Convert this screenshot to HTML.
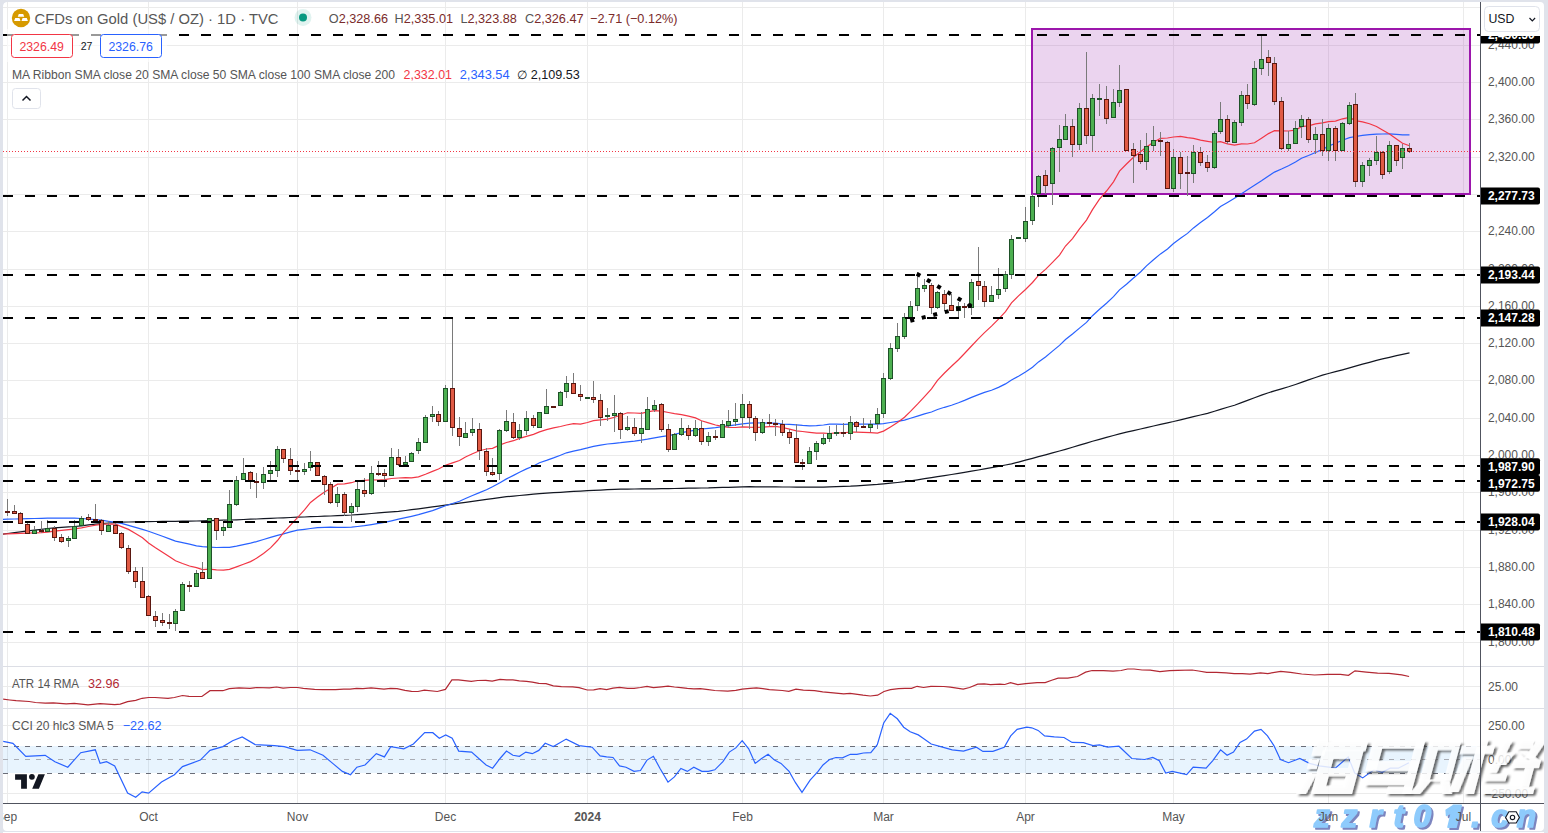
<!DOCTYPE html>
<html><head><meta charset="utf-8"><style>
html,body{margin:0;padding:0;background:#e0e3eb;overflow:hidden}
svg{display:block;font-family:"Liberation Sans", sans-serif;}
</style></head><body>
<svg width="1548" height="833" viewBox="0 0 1548 833">
<rect x="0" y="0" width="1548" height="833" fill="#e0e3eb"/>
<rect x="3" y="2" width="1541" height="829" rx="4" fill="#ffffff"/>
<defs><clipPath id="mp"><rect x="3" y="2" width="1477.5" height="664"/></clipPath><clipPath id="p1"><rect x="3" y="667" width="1477.5" height="41"/></clipPath><clipPath id="p2"><rect x="3" y="709" width="1477.5" height="94"/></clipPath><filter id="sh" x="-10%" y="-10%" width="130%" height="130%"><feGaussianBlur in="SourceAlpha" stdDeviation="1"/><feOffset dx="2.6" dy="2.2" result="b"/><feFlood flood-color="#333" flood-opacity="0.85"/><feComposite in2="b" operator="in"/><feComposite in2="SourceAlpha" operator="out"/><feMerge><feMergeNode/><feMergeNode in="SourceGraphic"/></feMerge></filter><filter id="sh2" x="-10%" y="-10%" width="130%" height="130%"><feGaussianBlur in="SourceAlpha" stdDeviation="0.4"/><feOffset dx="1.6" dy="1.6" result="b"/><feFlood flood-color="#6f78b8" flood-opacity="0.9"/><feComposite in2="b" operator="in"/><feMerge><feMergeNode/><feMergeNode in="SourceGraphic"/></feMerge></filter></defs>
<path d="M3 7.5H1480M3 45.5H1480M3 82.5H1480M3 119.5H1480M3 157.5H1480M3 194.5H1480M3 231.5H1480M3 269.5H1480M3 306.5H1480M3 343.5H1480M3 380.5H1480M3 418.5H1480M3 455.5H1480M3 492.5H1480M3 530.5H1480M3 567.5H1480M3 604.5H1480M3 642.5H1480M3 686.5H1480M3 725.5H1480M3 793.5H1480M7.5 2V803M148.5 2V803M297.5 2V803M445.5 2V803M587.5 2V803M742.5 2V803M883.5 2V803M1025.5 2V803M1173.5 2V803M1328.5 2V803M1463.5 2V803" stroke="#ebebeb" stroke-width="1" fill="none"/>
<path d="M3 666.5H1544M3 708.5H1544" stroke="#dcdee5" stroke-width="1"/>
<g clip-path="url(#mp)">
<rect x="1032" y="29" width="438" height="165" fill="#9c27b0" fill-opacity="0.2" stroke="#9c16ac" stroke-width="2"/>
<polyline points="3.0,534.1 7.5,533.5 14.5,532.6 20.5,531.8 27.5,530.9 34.5,530.1 41.5,529.3 47.5,528.5 54.5,527.9 61.5,527.4 68.5,526.9 74.5,526.5 81.5,525.8 88.5,524.9 95.5,524.1 101.5,523.5 108.5,523.0 115.5,522.6 121.5,522.2 128.5,522.0 135.5,521.9 142.5,521.7 148.5,521.6 155.5,521.5 162.5,521.4 169.5,521.3 175.5,521.3 182.5,521.2 189.5,521.1 196.5,521.0 202.5,520.8 209.5,520.6 216.5,520.4 223.5,520.2 229.5,520.0 236.5,519.8 243.5,519.5 250.5,519.2 256.5,519.0 263.5,518.7 270.5,518.3 277.5,518.0 283.5,517.8 290.5,517.5 297.5,517.2 304.5,517.0 310.5,516.7 317.5,516.5 324.5,516.2 330.5,516.0 337.5,515.7 344.5,515.3 351.5,515.0 357.5,514.6 364.5,514.1 371.5,513.5 378.5,512.9 384.5,512.3 391.5,511.8 398.5,511.3 405.5,510.5 411.5,509.7 418.5,508.8 425.5,507.8 432.5,506.9 438.5,506.1 445.5,505.2 452.5,504.2 459.5,503.2 465.5,502.4 472.5,501.4 479.5,500.4 486.5,499.4 492.5,498.6 499.5,497.7 506.5,496.7 513.5,496.1 519.5,495.5 526.5,494.9 533.5,494.2 539.5,493.7 546.5,493.2 553.5,492.7 560.5,492.3 566.5,491.9 573.5,491.4 580.5,491.1 587.5,490.7 593.5,490.4 600.5,490.1 607.5,489.7 614.5,489.4 620.5,489.2 627.5,489.1 634.5,489.0 641.5,488.9 647.5,488.9 654.5,488.8 661.5,488.7 668.5,488.6 674.5,488.5 681.5,488.4 688.5,488.2 695.5,488.1 701.5,488.0 708.5,487.9 715.5,487.6 722.5,487.4 728.5,487.3 735.5,487.1 742.5,486.8 749.5,486.7 755.5,486.8 762.5,486.8 769.5,486.9 775.5,486.9 782.5,487.0 789.5,487.0 796.5,487.1 802.5,487.1 809.5,487.1 816.5,487.1 823.5,487.1 829.5,486.9 836.5,486.7 843.5,486.4 850.5,486.2 856.5,485.8 863.5,485.3 870.5,484.8 877.5,484.4 883.5,483.9 890.5,483.2 897.5,482.5 904.5,481.7 910.5,480.8 917.5,479.8 924.5,478.7 931.5,477.6 937.5,476.7 944.5,475.6 951.5,474.5 958.5,473.3 964.5,472.3 971.5,471.2 978.5,470.0 984.5,468.9 991.5,467.6 998.5,466.3 1005.5,465.0 1011.5,463.9 1018.5,462.1 1025.5,460.2 1032.5,458.3 1038.5,456.7 1045.5,454.8 1052.5,452.9 1059.5,451.0 1065.5,449.3 1072.5,447.2 1079.5,445.1 1086.5,443.1 1092.5,441.3 1099.5,439.3 1106.5,437.4 1113.5,435.5 1119.5,433.9 1126.5,432.2 1133.5,430.6 1140.5,429.0 1146.5,427.6 1153.5,426.0 1160.5,424.4 1167.5,422.8 1173.5,421.5 1180.5,419.8 1187.5,418.1 1193.5,416.7 1200.5,415.0 1207.5,413.3 1214.5,411.2 1220.5,409.4 1227.5,407.3 1234.5,405.2 1241.5,402.6 1247.5,400.4 1254.5,397.7 1261.5,395.1 1268.5,392.7 1274.5,390.9 1281.5,388.9 1288.5,386.8 1295.5,384.5 1301.5,382.4 1308.5,379.9 1315.5,377.5 1322.5,375.1 1328.5,373.5 1335.5,371.6 1342.5,369.8 1349.5,367.9 1355.5,366.2 1362.5,364.2 1369.5,362.3 1376.5,360.3 1382.5,358.9 1389.5,357.3 1396.5,355.7 1402.5,354.3 1409.5,352.8" fill="none" stroke="#131722" stroke-width="1.2"/>
<polyline points="3.0,519.3 7.5,519.2 14.5,519.0 20.5,518.8 27.5,518.6 34.5,518.5 41.5,518.3 47.5,518.2 54.5,518.2 61.5,518.2 68.5,518.2 74.5,518.2 81.5,518.5 88.5,519.0 95.5,519.6 101.5,520.2 108.5,521.3 115.5,522.3 121.5,523.3 128.5,525.3 135.5,527.4 142.5,529.4 148.5,531.2 155.5,533.7 162.5,536.3 169.5,538.9 175.5,541.1 182.5,542.7 189.5,544.2 196.5,545.8 202.5,546.7 209.5,547.1 216.5,547.5 223.5,547.4 229.5,547.3 236.5,546.1 243.5,544.7 250.5,543.2 256.5,541.6 263.5,539.5 270.5,537.4 277.5,535.4 283.5,533.8 290.5,531.9 297.5,530.2 304.5,529.3 310.5,528.5 317.5,527.6 324.5,527.3 330.5,527.1 337.5,527.3 344.5,527.4 351.5,527.2 357.5,526.5 364.5,525.7 371.5,524.6 378.5,523.4 384.5,522.4 391.5,520.8 398.5,519.2 405.5,517.7 411.5,516.3 418.5,514.7 425.5,512.7 432.5,510.6 438.5,508.4 445.5,505.7 452.5,503.5 459.5,501.3 465.5,498.5 472.5,495.5 479.5,492.6 486.5,489.7 492.5,486.8 499.5,482.9 506.5,478.9 513.5,475.4 519.5,472.3 526.5,468.9 533.5,466.0 539.5,462.7 546.5,460.4 553.5,457.9 560.5,455.2 566.5,452.8 573.5,451.1 580.5,449.6 587.5,447.9 593.5,446.3 600.5,445.1 607.5,444.0 614.5,443.3 620.5,442.7 627.5,441.8 634.5,441.1 641.5,440.2 647.5,439.2 654.5,437.8 661.5,436.7 668.5,435.6 674.5,434.4 681.5,432.7 688.5,431.3 695.5,430.1 701.5,429.0 708.5,428.3 715.5,427.6 722.5,426.6 728.5,425.8 735.5,424.9 742.5,423.8 749.5,423.1 755.5,422.9 762.5,423.0 769.5,423.1 775.5,423.2 782.5,424.1 789.5,424.3 796.5,424.8 802.5,425.4 809.5,425.8 816.5,425.7 823.5,425.0 829.5,424.2 836.5,424.2 843.5,424.4 850.5,424.1 856.5,424.1 863.5,424.2 870.5,424.2 877.5,424.2 883.5,423.7 890.5,422.5 897.5,421.4 904.5,420.1 910.5,418.3 917.5,416.1 924.5,413.9 931.5,412.0 937.5,409.5 944.5,407.3 951.5,405.3 958.5,402.8 964.5,400.4 971.5,397.4 978.5,394.6 984.5,392.4 991.5,390.2 998.5,387.4 1005.5,383.9 1011.5,380.0 1018.5,376.2 1025.5,371.9 1032.5,367.2 1038.5,361.9 1045.5,356.9 1052.5,351.1 1059.5,345.4 1065.5,339.5 1072.5,334.0 1079.5,328.1 1086.5,322.4 1092.5,315.7 1099.5,309.2 1106.5,303.2 1113.5,296.7 1119.5,289.9 1126.5,284.2 1133.5,278.0 1140.5,272.0 1146.5,265.9 1153.5,259.8 1160.5,253.9 1167.5,249.0 1173.5,243.5 1180.5,238.3 1187.5,233.4 1193.5,227.9 1200.5,222.6 1207.5,217.5 1214.5,211.8 1220.5,206.6 1227.5,202.5 1234.5,198.2 1241.5,193.8 1247.5,189.7 1254.5,185.3 1261.5,180.8 1268.5,175.9 1274.5,172.1 1281.5,169.0 1288.5,165.7 1295.5,162.1 1301.5,158.3 1308.5,155.5 1315.5,152.5 1322.5,149.4 1328.5,146.1 1335.5,143.3 1342.5,140.3 1349.5,137.6 1355.5,136.5 1362.5,135.4 1369.5,134.7 1376.5,134.2 1382.5,134.0 1389.5,133.9 1396.5,134.4 1402.5,134.8 1409.5,134.9" fill="none" stroke="#2962ff" stroke-width="1.2"/>
<polyline points="3.0,534.0 7.5,533.8 14.5,533.6 20.5,533.4 27.5,533.1 34.5,532.8 41.5,532.6 47.5,532.1 54.5,531.2 61.5,530.4 68.5,529.6 74.5,528.9 81.5,527.8 88.5,526.5 95.5,525.2 101.5,524.4 108.5,524.0 115.5,524.2 121.5,526.6 128.5,529.4 135.5,533.5 142.5,537.7 148.5,542.9 155.5,547.7 162.5,552.2 169.5,556.8 175.5,560.8 182.5,563.5 189.5,566.0 196.5,567.6 202.5,569.6 209.5,569.2 216.5,569.8 223.5,570.2 229.5,569.4 236.5,566.9 243.5,564.3 250.5,561.6 256.5,558.3 263.5,553.4 270.5,547.9 277.5,540.5 283.5,532.6 290.5,525.1 297.5,517.6 304.5,509.9 310.5,502.4 317.5,497.0 324.5,491.9 330.5,488.4 337.5,484.2 344.5,483.9 351.5,482.7 357.5,480.8 364.5,480.3 371.5,479.9 378.5,480.0 384.5,479.7 391.5,478.5 398.5,478.0 405.5,477.6 411.5,477.8 418.5,476.9 425.5,474.3 432.5,471.4 438.5,469.0 445.5,465.3 452.5,462.9 459.5,460.5 465.5,457.0 472.5,453.8 479.5,450.7 486.5,449.0 492.5,448.3 499.5,445.1 506.5,442.5 513.5,440.7 519.5,438.4 526.5,436.4 533.5,434.4 539.5,431.9 546.5,429.6 553.5,427.8 560.5,426.5 566.5,425.0 573.5,423.6 580.5,424.1 587.5,422.5 593.5,420.7 600.5,419.9 607.5,419.2 614.5,417.3 620.5,415.2 627.5,412.8 634.5,413.0 641.5,413.3 647.5,411.9 654.5,410.7 661.5,411.2 668.5,412.5 674.5,413.6 681.5,414.6 688.5,416.1 695.5,417.9 701.5,420.8 708.5,422.9 715.5,425.0 722.5,426.3 728.5,427.4 735.5,427.5 742.5,426.9 749.5,427.2 755.5,427.3 762.5,427.1 769.5,426.6 775.5,426.3 782.5,427.5 789.5,429.2 796.5,430.8 802.5,431.5 809.5,432.3 816.5,433.1 823.5,433.2 829.5,433.5 836.5,432.9 843.5,432.8 850.5,432.0 856.5,432.1 863.5,432.4 870.5,432.6 877.5,433.1 883.5,431.1 890.5,426.9 897.5,422.6 904.5,417.3 910.5,411.4 917.5,404.2 924.5,396.6 931.5,388.9 937.5,380.3 944.5,373.0 951.5,366.3 958.5,359.7 964.5,353.5 971.5,346.0 978.5,338.7 984.5,332.6 991.5,326.1 998.5,319.1 1005.5,311.7 1011.5,302.9 1018.5,295.9 1025.5,289.5 1032.5,282.5 1038.5,275.4 1045.5,269.4 1052.5,262.4 1059.5,255.1 1065.5,246.0 1072.5,238.6 1079.5,228.8 1086.5,220.1 1092.5,209.6 1099.5,199.1 1106.5,191.0 1113.5,181.8 1119.5,171.2 1126.5,164.0 1133.5,157.3 1140.5,151.7 1146.5,147.1 1153.5,142.2 1160.5,138.3 1167.5,138.0 1173.5,137.0 1180.5,136.4 1187.5,137.7 1193.5,138.3 1200.5,140.2 1207.5,141.3 1214.5,142.5 1220.5,141.7 1227.5,143.9 1234.5,145.1 1241.5,143.9 1247.5,144.0 1254.5,142.8 1261.5,138.2 1268.5,133.6 1274.5,130.6 1281.5,130.8 1288.5,131.0 1295.5,130.2 1301.5,126.7 1308.5,125.9 1315.5,123.9 1322.5,122.8 1328.5,121.6 1335.5,121.1 1342.5,118.8 1349.5,117.4 1355.5,120.6 1362.5,121.8 1369.5,123.7 1376.5,126.5 1382.5,130.0 1389.5,133.9 1396.5,139.0 1402.5,143.2 1409.5,145.7" fill="none" stroke="#f23645" stroke-width="1.2"/>
<path d="M7.5 499V516M14.5 505V514M20.5 512V524M27.5 521V534M34.5 526V534M41.5 521V533M47.5 520V532M54.5 526V541M61.5 534V543M68.5 536V547M74.5 520V539M81.5 516V526M88.5 514V521M95.5 504V522M101.5 519V535M108.5 521V532M115.5 523V534M121.5 532V549M128.5 545V574M135.5 567V588M142.5 567V598M148.5 595V616M155.5 611V627M162.5 613V626M169.5 614V629M175.5 609V631M182.5 582V611M189.5 581V592M196.5 570V587M202.5 562V579M209.5 518V579M216.5 518V540M223.5 520V536M229.5 490V528M236.5 476V506M243.5 458V480M250.5 471V489M256.5 473V498M263.5 467V489M270.5 461V480M277.5 446V477M283.5 449V463M290.5 448V475M297.5 461V482M304.5 463V475M310.5 451V471M317.5 462V476M324.5 475V495M330.5 482V504M337.5 487V507M344.5 492V516M351.5 503V522M357.5 482V512M364.5 478V497M371.5 466V495M378.5 461V476M384.5 469V487M391.5 448V476M398.5 449V466M405.5 456V465M411.5 452V462M418.5 438V454M425.5 415V443M432.5 406V422M438.5 411V426M445.5 385V422M452.5 318V436M459.5 417V446M465.5 422V438M472.5 418V436M479.5 423V460M486.5 448V476M492.5 458V476M499.5 429V480M506.5 410V432M513.5 413V439M519.5 424V440M526.5 411V435M533.5 415V428M539.5 412V428M546.5 389V414M553.5 406V407M560.5 391V406M566.5 376V398M573.5 373V394M580.5 385V401M587.5 397V398M593.5 381V403M600.5 394V426M607.5 408V421M614.5 395V432M620.5 412V439M627.5 416V431M634.5 418V436M641.5 412V443M647.5 397V430M654.5 400V412M661.5 403V432M668.5 424V452M674.5 433V450M681.5 418V436M688.5 425V440M695.5 420V437M701.5 421V445M708.5 432V446M715.5 430V440M722.5 420V438M728.5 410V428M735.5 403V426M742.5 394V427M749.5 401V429M755.5 416V441M762.5 419V434M769.5 414V426M775.5 419V436M782.5 420V436M789.5 429V444M796.5 424V463M802.5 459V470M809.5 447V464M816.5 441V460M823.5 434V445M829.5 426V442M836.5 425V436M843.5 423V437M850.5 416V440M856.5 421V432M863.5 418V428M870.5 420V432M877.5 408V429M883.5 373V418M890.5 343V380M897.5 323V352M904.5 313V339M910.5 301V318M917.5 272V311M924.5 279V292M931.5 283V314M937.5 291V309M944.5 290V311M951.5 294V311M958.5 302V318M964.5 303V318M971.5 279V315M978.5 247V300M984.5 281V307M991.5 286V302M998.5 268V299M1005.5 271V292M1011.5 235V279M1018.5 237V238M1025.5 207V242M1032.5 194V225M1038.5 175V207M1045.5 170V194M1052.5 147V205M1059.5 125V172M1065.5 114V140M1072.5 119V157M1079.5 103V150M1086.5 52V144M1092.5 94V151M1099.5 84V116M1106.5 86V124M1113.5 89V118M1119.5 65V107M1126.5 89V151M1133.5 143V183M1140.5 140V164M1146.5 133V170M1153.5 126V151M1160.5 132V156M1167.5 141V189M1173.5 149V192M1180.5 152V189M1187.5 156V196M1193.5 145V183M1200.5 147V166M1207.5 155V172M1214.5 131V169M1220.5 102V134M1227.5 115V144M1234.5 120V143M1241.5 91V126M1247.5 84V109M1254.5 61V106M1261.5 35V75M1268.5 50V76M1274.5 57V105M1281.5 97V150M1288.5 131V151M1295.5 121V144M1301.5 115V138M1308.5 117V143M1315.5 127V154M1322.5 119V156M1328.5 124V161M1335.5 126V161M1342.5 122V151M1349.5 102V125M1355.5 93V187M1362.5 162V187M1369.5 158V176M1376.5 136V165M1382.5 151V179M1389.5 141V174M1396.5 145V166M1402.5 144V169M1409.5 143V153" stroke="#7a7a7a" stroke-width="1" fill="none"/>
<rect x="5" y="511" width="5" height="2" fill="#5a1710"/><rect x="12" y="511" width="5" height="3" fill="#5a1710"/><rect x="13" y="512" width="3" height="1" fill="#e05a44"/><rect x="18" y="513" width="5" height="11" fill="#5a1710"/><rect x="19" y="514" width="3" height="9" fill="#e05a44"/><rect x="25" y="524" width="5" height="10" fill="#5a1710"/><rect x="26" y="525" width="3" height="8" fill="#e05a44"/><rect x="32" y="530" width="5" height="4" fill="#1e5128"/><rect x="33" y="531" width="3" height="2" fill="#4caf50"/><rect x="39" y="530" width="5" height="2" fill="#5a1710"/><rect x="45" y="528" width="5" height="4" fill="#1e5128"/><rect x="46" y="529" width="3" height="2" fill="#4caf50"/><rect x="52" y="528" width="5" height="10" fill="#5a1710"/><rect x="53" y="529" width="3" height="8" fill="#e05a44"/><rect x="59" y="537" width="5" height="5" fill="#5a1710"/><rect x="60" y="538" width="3" height="3" fill="#e05a44"/><rect x="66" y="538" width="5" height="3" fill="#1e5128"/><rect x="67" y="539" width="3" height="1" fill="#4caf50"/><rect x="72" y="526" width="5" height="13" fill="#1e5128"/><rect x="73" y="527" width="3" height="11" fill="#4caf50"/><rect x="79" y="518" width="5" height="8" fill="#1e5128"/><rect x="80" y="519" width="3" height="6" fill="#4caf50"/><rect x="86" y="517" width="5" height="3" fill="#5a1710"/><rect x="87" y="518" width="3" height="1" fill="#e05a44"/><rect x="93" y="519" width="5" height="2" fill="#5a1710"/><rect x="99" y="520" width="5" height="11" fill="#5a1710"/><rect x="100" y="521" width="3" height="9" fill="#e05a44"/><rect x="106" y="525" width="5" height="7" fill="#1e5128"/><rect x="107" y="526" width="3" height="5" fill="#4caf50"/><rect x="113" y="525" width="5" height="9" fill="#5a1710"/><rect x="114" y="526" width="3" height="7" fill="#e05a44"/><rect x="119" y="533" width="5" height="15" fill="#5a1710"/><rect x="120" y="534" width="3" height="13" fill="#e05a44"/><rect x="126" y="548" width="5" height="24" fill="#5a1710"/><rect x="127" y="549" width="3" height="22" fill="#e05a44"/><rect x="133" y="571" width="5" height="11" fill="#5a1710"/><rect x="134" y="572" width="3" height="9" fill="#e05a44"/><rect x="140" y="581" width="5" height="17" fill="#5a1710"/><rect x="141" y="582" width="3" height="15" fill="#e05a44"/><rect x="146" y="596" width="5" height="20" fill="#5a1710"/><rect x="147" y="597" width="3" height="18" fill="#e05a44"/><rect x="153" y="616" width="5" height="5" fill="#5a1710"/><rect x="154" y="617" width="3" height="3" fill="#e05a44"/><rect x="160" y="620" width="5" height="3" fill="#5a1710"/><rect x="161" y="621" width="3" height="1" fill="#e05a44"/><rect x="167" y="622" width="5" height="2" fill="#5a1710"/><rect x="173" y="611" width="5" height="13" fill="#1e5128"/><rect x="174" y="612" width="3" height="11" fill="#4caf50"/><rect x="180" y="584" width="5" height="27" fill="#1e5128"/><rect x="181" y="585" width="3" height="25" fill="#4caf50"/><rect x="187" y="585" width="5" height="2" fill="#5a1710"/><rect x="194" y="573" width="5" height="14" fill="#1e5128"/><rect x="195" y="574" width="3" height="12" fill="#4caf50"/><rect x="200" y="572" width="5" height="7" fill="#5a1710"/><rect x="201" y="573" width="3" height="5" fill="#e05a44"/><rect x="207" y="518" width="5" height="61" fill="#1e5128"/><rect x="208" y="519" width="3" height="59" fill="#4caf50"/><rect x="214" y="518" width="5" height="13" fill="#5a1710"/><rect x="215" y="519" width="3" height="11" fill="#e05a44"/><rect x="221" y="527" width="5" height="4" fill="#1e5128"/><rect x="222" y="528" width="3" height="2" fill="#4caf50"/><rect x="227" y="504" width="5" height="24" fill="#1e5128"/><rect x="228" y="505" width="3" height="22" fill="#4caf50"/><rect x="234" y="480" width="5" height="25" fill="#1e5128"/><rect x="235" y="481" width="3" height="23" fill="#4caf50"/><rect x="241" y="473" width="5" height="7" fill="#1e5128"/><rect x="242" y="474" width="3" height="5" fill="#4caf50"/><rect x="248" y="472" width="5" height="9" fill="#5a1710"/><rect x="249" y="473" width="3" height="7" fill="#e05a44"/><rect x="254" y="481" width="5" height="2" fill="#5a1710"/><rect x="261" y="474" width="5" height="9" fill="#1e5128"/><rect x="262" y="475" width="3" height="7" fill="#4caf50"/><rect x="268" y="470" width="5" height="4" fill="#1e5128"/><rect x="269" y="471" width="3" height="2" fill="#4caf50"/><rect x="275" y="449" width="5" height="22" fill="#1e5128"/><rect x="276" y="450" width="3" height="20" fill="#4caf50"/><rect x="281" y="449" width="5" height="10" fill="#5a1710"/><rect x="282" y="450" width="3" height="8" fill="#e05a44"/><rect x="288" y="459" width="5" height="12" fill="#5a1710"/><rect x="289" y="460" width="3" height="10" fill="#e05a44"/><rect x="295" y="470" width="5" height="2" fill="#5a1710"/><rect x="302" y="469" width="5" height="3" fill="#1e5128"/><rect x="303" y="470" width="3" height="1" fill="#4caf50"/><rect x="308" y="462" width="5" height="6" fill="#1e5128"/><rect x="309" y="463" width="3" height="4" fill="#4caf50"/><rect x="315" y="462" width="5" height="14" fill="#5a1710"/><rect x="316" y="463" width="3" height="12" fill="#e05a44"/><rect x="322" y="476" width="5" height="9" fill="#5a1710"/><rect x="323" y="477" width="3" height="7" fill="#e05a44"/><rect x="328" y="484" width="5" height="19" fill="#5a1710"/><rect x="329" y="485" width="3" height="17" fill="#e05a44"/><rect x="335" y="494" width="5" height="9" fill="#1e5128"/><rect x="336" y="495" width="3" height="7" fill="#4caf50"/><rect x="342" y="494" width="5" height="19" fill="#5a1710"/><rect x="343" y="495" width="3" height="17" fill="#e05a44"/><rect x="349" y="506" width="5" height="7" fill="#1e5128"/><rect x="350" y="507" width="3" height="5" fill="#4caf50"/><rect x="355" y="489" width="5" height="18" fill="#1e5128"/><rect x="356" y="490" width="3" height="16" fill="#4caf50"/><rect x="362" y="490" width="5" height="4" fill="#5a1710"/><rect x="363" y="491" width="3" height="2" fill="#e05a44"/><rect x="369" y="473" width="5" height="21" fill="#1e5128"/><rect x="370" y="474" width="3" height="19" fill="#4caf50"/><rect x="376" y="473" width="5" height="2" fill="#5a1710"/><rect x="382" y="473" width="5" height="3" fill="#5a1710"/><rect x="383" y="474" width="3" height="1" fill="#e05a44"/><rect x="389" y="457" width="5" height="19" fill="#1e5128"/><rect x="390" y="458" width="3" height="17" fill="#4caf50"/><rect x="396" y="457" width="5" height="8" fill="#5a1710"/><rect x="397" y="458" width="3" height="6" fill="#e05a44"/><rect x="403" y="462" width="5" height="3" fill="#1e5128"/><rect x="404" y="463" width="3" height="1" fill="#4caf50"/><rect x="409" y="453" width="5" height="9" fill="#1e5128"/><rect x="410" y="454" width="3" height="7" fill="#4caf50"/><rect x="416" y="442" width="5" height="9" fill="#1e5128"/><rect x="417" y="443" width="3" height="7" fill="#4caf50"/><rect x="423" y="417" width="5" height="26" fill="#1e5128"/><rect x="424" y="418" width="3" height="24" fill="#4caf50"/><rect x="430" y="414" width="5" height="3" fill="#1e5128"/><rect x="431" y="415" width="3" height="1" fill="#4caf50"/><rect x="436" y="414" width="5" height="8" fill="#5a1710"/><rect x="437" y="415" width="3" height="6" fill="#e05a44"/><rect x="443" y="388" width="5" height="34" fill="#1e5128"/><rect x="444" y="389" width="3" height="32" fill="#4caf50"/><rect x="450" y="388" width="5" height="40" fill="#5a1710"/><rect x="451" y="389" width="3" height="38" fill="#e05a44"/><rect x="457" y="428" width="5" height="9" fill="#5a1710"/><rect x="458" y="429" width="3" height="7" fill="#e05a44"/><rect x="463" y="433" width="5" height="5" fill="#1e5128"/><rect x="464" y="434" width="3" height="3" fill="#4caf50"/><rect x="470" y="429" width="5" height="4" fill="#1e5128"/><rect x="471" y="430" width="3" height="2" fill="#4caf50"/><rect x="477" y="429" width="5" height="22" fill="#5a1710"/><rect x="478" y="430" width="3" height="20" fill="#e05a44"/><rect x="484" y="451" width="5" height="21" fill="#5a1710"/><rect x="485" y="452" width="3" height="19" fill="#e05a44"/><rect x="490" y="472" width="5" height="3" fill="#5a1710"/><rect x="491" y="473" width="3" height="1" fill="#e05a44"/><rect x="497" y="430" width="5" height="44" fill="#1e5128"/><rect x="498" y="431" width="3" height="42" fill="#4caf50"/><rect x="504" y="421" width="5" height="10" fill="#1e5128"/><rect x="505" y="422" width="3" height="8" fill="#4caf50"/><rect x="511" y="422" width="5" height="16" fill="#5a1710"/><rect x="512" y="423" width="3" height="14" fill="#e05a44"/><rect x="517" y="430" width="5" height="8" fill="#1e5128"/><rect x="518" y="431" width="3" height="6" fill="#4caf50"/><rect x="524" y="418" width="5" height="13" fill="#1e5128"/><rect x="525" y="419" width="3" height="11" fill="#4caf50"/><rect x="531" y="418" width="5" height="8" fill="#5a1710"/><rect x="532" y="419" width="3" height="6" fill="#e05a44"/><rect x="537" y="412" width="5" height="16" fill="#1e5128"/><rect x="538" y="413" width="3" height="14" fill="#4caf50"/><rect x="544" y="406" width="5" height="8" fill="#1e5128"/><rect x="545" y="407" width="3" height="6" fill="#4caf50"/><rect x="551" y="406" width="5" height="2" fill="#5a1710"/><rect x="558" y="392" width="5" height="14" fill="#1e5128"/><rect x="559" y="393" width="3" height="12" fill="#4caf50"/><rect x="564" y="383" width="5" height="9" fill="#1e5128"/><rect x="565" y="384" width="3" height="7" fill="#4caf50"/><rect x="571" y="383" width="5" height="11" fill="#5a1710"/><rect x="572" y="384" width="3" height="9" fill="#e05a44"/><rect x="578" y="394" width="5" height="3" fill="#5a1710"/><rect x="579" y="395" width="3" height="1" fill="#e05a44"/><rect x="585" y="397" width="5" height="2" fill="#1e5128"/><rect x="591" y="397" width="5" height="3" fill="#5a1710"/><rect x="592" y="398" width="3" height="1" fill="#e05a44"/><rect x="598" y="400" width="5" height="18" fill="#5a1710"/><rect x="599" y="401" width="3" height="16" fill="#e05a44"/><rect x="605" y="415" width="5" height="2" fill="#1e5128"/><rect x="612" y="413" width="5" height="3" fill="#1e5128"/><rect x="613" y="414" width="3" height="1" fill="#4caf50"/><rect x="618" y="413" width="5" height="17" fill="#5a1710"/><rect x="619" y="414" width="3" height="15" fill="#e05a44"/><rect x="625" y="427" width="5" height="3" fill="#1e5128"/><rect x="626" y="428" width="3" height="1" fill="#4caf50"/><rect x="632" y="427" width="5" height="7" fill="#5a1710"/><rect x="633" y="428" width="3" height="5" fill="#e05a44"/><rect x="639" y="428" width="5" height="6" fill="#1e5128"/><rect x="640" y="429" width="3" height="4" fill="#4caf50"/><rect x="645" y="409" width="5" height="21" fill="#1e5128"/><rect x="646" y="410" width="3" height="19" fill="#4caf50"/><rect x="652" y="405" width="5" height="5" fill="#1e5128"/><rect x="653" y="406" width="3" height="3" fill="#4caf50"/><rect x="659" y="404" width="5" height="26" fill="#5a1710"/><rect x="660" y="405" width="3" height="24" fill="#e05a44"/><rect x="666" y="429" width="5" height="21" fill="#5a1710"/><rect x="667" y="430" width="3" height="19" fill="#e05a44"/><rect x="672" y="434" width="5" height="16" fill="#1e5128"/><rect x="673" y="435" width="3" height="14" fill="#4caf50"/><rect x="679" y="428" width="5" height="7" fill="#1e5128"/><rect x="680" y="429" width="3" height="5" fill="#4caf50"/><rect x="686" y="428" width="5" height="8" fill="#5a1710"/><rect x="687" y="429" width="3" height="6" fill="#e05a44"/><rect x="693" y="428" width="5" height="8" fill="#1e5128"/><rect x="694" y="429" width="3" height="6" fill="#4caf50"/><rect x="699" y="428" width="5" height="14" fill="#5a1710"/><rect x="700" y="429" width="3" height="12" fill="#e05a44"/><rect x="706" y="436" width="5" height="6" fill="#1e5128"/><rect x="707" y="437" width="3" height="4" fill="#4caf50"/><rect x="713" y="436" width="5" height="2" fill="#5a1710"/><rect x="720" y="424" width="5" height="14" fill="#1e5128"/><rect x="721" y="425" width="3" height="12" fill="#4caf50"/><rect x="726" y="421" width="5" height="5" fill="#1e5128"/><rect x="727" y="422" width="3" height="3" fill="#4caf50"/><rect x="733" y="419" width="5" height="3" fill="#1e5128"/><rect x="734" y="420" width="3" height="1" fill="#4caf50"/><rect x="740" y="404" width="5" height="14" fill="#1e5128"/><rect x="741" y="405" width="3" height="12" fill="#4caf50"/><rect x="747" y="404" width="5" height="14" fill="#5a1710"/><rect x="748" y="405" width="3" height="12" fill="#e05a44"/><rect x="753" y="418" width="5" height="15" fill="#5a1710"/><rect x="754" y="419" width="3" height="13" fill="#e05a44"/><rect x="760" y="422" width="5" height="11" fill="#1e5128"/><rect x="761" y="423" width="3" height="9" fill="#4caf50"/><rect x="767" y="422" width="5" height="2" fill="#5a1710"/><rect x="773" y="423" width="5" height="2" fill="#5a1710"/><rect x="780" y="424" width="5" height="9" fill="#5a1710"/><rect x="781" y="425" width="3" height="7" fill="#e05a44"/><rect x="787" y="432" width="5" height="6" fill="#5a1710"/><rect x="788" y="433" width="3" height="4" fill="#e05a44"/><rect x="794" y="438" width="5" height="25" fill="#5a1710"/><rect x="795" y="439" width="3" height="23" fill="#e05a44"/><rect x="800" y="462" width="5" height="2" fill="#5a1710"/><rect x="807" y="451" width="5" height="13" fill="#1e5128"/><rect x="808" y="452" width="3" height="11" fill="#4caf50"/><rect x="814" y="443" width="5" height="9" fill="#1e5128"/><rect x="815" y="444" width="3" height="7" fill="#4caf50"/><rect x="821" y="438" width="5" height="6" fill="#1e5128"/><rect x="822" y="439" width="3" height="4" fill="#4caf50"/><rect x="827" y="433" width="5" height="6" fill="#1e5128"/><rect x="828" y="434" width="3" height="4" fill="#4caf50"/><rect x="834" y="432" width="5" height="2" fill="#1e5128"/><rect x="841" y="432" width="5" height="2" fill="#5a1710"/><rect x="848" y="422" width="5" height="12" fill="#1e5128"/><rect x="849" y="423" width="3" height="10" fill="#4caf50"/><rect x="854" y="422" width="5" height="5" fill="#5a1710"/><rect x="855" y="423" width="3" height="3" fill="#e05a44"/><rect x="861" y="426" width="5" height="2" fill="#5a1710"/><rect x="868" y="424" width="5" height="4" fill="#1e5128"/><rect x="869" y="425" width="3" height="2" fill="#4caf50"/><rect x="875" y="414" width="5" height="10" fill="#1e5128"/><rect x="876" y="415" width="3" height="8" fill="#4caf50"/><rect x="881" y="378" width="5" height="36" fill="#1e5128"/><rect x="882" y="379" width="3" height="34" fill="#4caf50"/><rect x="888" y="348" width="5" height="31" fill="#1e5128"/><rect x="889" y="349" width="3" height="29" fill="#4caf50"/><rect x="895" y="336" width="5" height="13" fill="#1e5128"/><rect x="896" y="337" width="3" height="11" fill="#4caf50"/><rect x="902" y="317" width="5" height="20" fill="#1e5128"/><rect x="903" y="318" width="3" height="18" fill="#4caf50"/><rect x="908" y="306" width="5" height="12" fill="#1e5128"/><rect x="909" y="307" width="3" height="10" fill="#4caf50"/><rect x="915" y="288" width="5" height="18" fill="#1e5128"/><rect x="916" y="289" width="3" height="16" fill="#4caf50"/><rect x="922" y="285" width="5" height="4" fill="#1e5128"/><rect x="923" y="286" width="3" height="2" fill="#4caf50"/><rect x="929" y="285" width="5" height="23" fill="#5a1710"/><rect x="930" y="286" width="3" height="21" fill="#e05a44"/><rect x="935" y="292" width="5" height="16" fill="#1e5128"/><rect x="936" y="293" width="3" height="14" fill="#4caf50"/><rect x="942" y="294" width="5" height="10" fill="#5a1710"/><rect x="943" y="295" width="3" height="8" fill="#e05a44"/><rect x="949" y="305" width="5" height="6" fill="#5a1710"/><rect x="950" y="306" width="3" height="4" fill="#e05a44"/><rect x="956" y="306" width="5" height="5" fill="#1e5128"/><rect x="957" y="307" width="3" height="3" fill="#4caf50"/><rect x="962" y="306" width="5" height="2" fill="#5a1710"/><rect x="969" y="282" width="5" height="26" fill="#1e5128"/><rect x="970" y="283" width="3" height="24" fill="#4caf50"/><rect x="976" y="281" width="5" height="5" fill="#5a1710"/><rect x="977" y="282" width="3" height="3" fill="#e05a44"/><rect x="982" y="286" width="5" height="16" fill="#5a1710"/><rect x="983" y="287" width="3" height="14" fill="#e05a44"/><rect x="989" y="295" width="5" height="7" fill="#1e5128"/><rect x="990" y="296" width="3" height="5" fill="#4caf50"/><rect x="996" y="289" width="5" height="6" fill="#1e5128"/><rect x="997" y="290" width="3" height="4" fill="#4caf50"/><rect x="1003" y="274" width="5" height="15" fill="#1e5128"/><rect x="1004" y="275" width="3" height="13" fill="#4caf50"/><rect x="1009" y="239" width="5" height="36" fill="#1e5128"/><rect x="1010" y="240" width="3" height="34" fill="#4caf50"/><rect x="1016" y="237" width="5" height="2" fill="#1e5128"/><rect x="1023" y="221" width="5" height="18" fill="#1e5128"/><rect x="1024" y="222" width="3" height="16" fill="#4caf50"/><rect x="1030" y="196" width="5" height="25" fill="#1e5128"/><rect x="1031" y="197" width="3" height="23" fill="#4caf50"/><rect x="1036" y="176" width="5" height="18" fill="#1e5128"/><rect x="1037" y="177" width="3" height="16" fill="#4caf50"/><rect x="1043" y="175" width="5" height="11" fill="#5a1710"/><rect x="1044" y="176" width="3" height="9" fill="#e05a44"/><rect x="1050" y="148" width="5" height="36" fill="#1e5128"/><rect x="1051" y="149" width="3" height="34" fill="#4caf50"/><rect x="1057" y="139" width="5" height="9" fill="#1e5128"/><rect x="1058" y="140" width="3" height="7" fill="#4caf50"/><rect x="1063" y="126" width="5" height="14" fill="#1e5128"/><rect x="1064" y="127" width="3" height="12" fill="#4caf50"/><rect x="1070" y="126" width="5" height="19" fill="#5a1710"/><rect x="1071" y="127" width="3" height="17" fill="#e05a44"/><rect x="1077" y="108" width="5" height="37" fill="#1e5128"/><rect x="1078" y="109" width="3" height="35" fill="#4caf50"/><rect x="1084" y="108" width="5" height="28" fill="#5a1710"/><rect x="1085" y="109" width="3" height="26" fill="#e05a44"/><rect x="1090" y="98" width="5" height="38" fill="#1e5128"/><rect x="1091" y="99" width="3" height="36" fill="#4caf50"/><rect x="1097" y="98" width="5" height="2" fill="#1e5128"/><rect x="1104" y="99" width="5" height="20" fill="#5a1710"/><rect x="1105" y="100" width="3" height="18" fill="#e05a44"/><rect x="1111" y="102" width="5" height="16" fill="#1e5128"/><rect x="1112" y="103" width="3" height="14" fill="#4caf50"/><rect x="1117" y="90" width="5" height="13" fill="#1e5128"/><rect x="1118" y="91" width="3" height="11" fill="#4caf50"/><rect x="1124" y="89" width="5" height="62" fill="#5a1710"/><rect x="1125" y="90" width="3" height="60" fill="#e05a44"/><rect x="1131" y="149" width="5" height="7" fill="#5a1710"/><rect x="1132" y="150" width="3" height="5" fill="#e05a44"/><rect x="1138" y="154" width="5" height="8" fill="#5a1710"/><rect x="1139" y="155" width="3" height="6" fill="#e05a44"/><rect x="1144" y="146" width="5" height="16" fill="#1e5128"/><rect x="1145" y="147" width="3" height="14" fill="#4caf50"/><rect x="1151" y="140" width="5" height="6" fill="#1e5128"/><rect x="1152" y="141" width="3" height="4" fill="#4caf50"/><rect x="1158" y="140" width="5" height="2" fill="#5a1710"/><rect x="1165" y="142" width="5" height="47" fill="#5a1710"/><rect x="1166" y="143" width="3" height="45" fill="#e05a44"/><rect x="1171" y="157" width="5" height="32" fill="#1e5128"/><rect x="1172" y="158" width="3" height="30" fill="#4caf50"/><rect x="1178" y="157" width="5" height="17" fill="#5a1710"/><rect x="1179" y="158" width="3" height="15" fill="#e05a44"/><rect x="1185" y="172" width="5" height="2" fill="#5a1710"/><rect x="1191" y="152" width="5" height="22" fill="#1e5128"/><rect x="1192" y="153" width="3" height="20" fill="#4caf50"/><rect x="1198" y="152" width="5" height="11" fill="#5a1710"/><rect x="1199" y="153" width="3" height="9" fill="#e05a44"/><rect x="1205" y="162" width="5" height="6" fill="#5a1710"/><rect x="1206" y="163" width="3" height="4" fill="#e05a44"/><rect x="1212" y="133" width="5" height="35" fill="#1e5128"/><rect x="1213" y="134" width="3" height="33" fill="#4caf50"/><rect x="1218" y="119" width="5" height="13" fill="#1e5128"/><rect x="1219" y="120" width="3" height="11" fill="#4caf50"/><rect x="1225" y="119" width="5" height="23" fill="#5a1710"/><rect x="1226" y="120" width="3" height="21" fill="#e05a44"/><rect x="1232" y="122" width="5" height="21" fill="#1e5128"/><rect x="1233" y="123" width="3" height="19" fill="#4caf50"/><rect x="1239" y="95" width="5" height="28" fill="#1e5128"/><rect x="1240" y="96" width="3" height="26" fill="#4caf50"/><rect x="1245" y="95" width="5" height="9" fill="#5a1710"/><rect x="1246" y="96" width="3" height="7" fill="#e05a44"/><rect x="1252" y="68" width="5" height="37" fill="#1e5128"/><rect x="1253" y="69" width="3" height="35" fill="#4caf50"/><rect x="1259" y="59" width="5" height="10" fill="#1e5128"/><rect x="1260" y="60" width="3" height="8" fill="#4caf50"/><rect x="1266" y="57" width="5" height="6" fill="#5a1710"/><rect x="1267" y="58" width="3" height="4" fill="#e05a44"/><rect x="1272" y="63" width="5" height="39" fill="#5a1710"/><rect x="1273" y="64" width="3" height="37" fill="#e05a44"/><rect x="1279" y="101" width="5" height="48" fill="#5a1710"/><rect x="1280" y="102" width="3" height="46" fill="#e05a44"/><rect x="1286" y="144" width="5" height="5" fill="#1e5128"/><rect x="1287" y="145" width="3" height="3" fill="#4caf50"/><rect x="1293" y="128" width="5" height="16" fill="#1e5128"/><rect x="1294" y="129" width="3" height="14" fill="#4caf50"/><rect x="1299" y="119" width="5" height="8" fill="#1e5128"/><rect x="1300" y="120" width="3" height="6" fill="#4caf50"/><rect x="1306" y="119" width="5" height="21" fill="#5a1710"/><rect x="1307" y="120" width="3" height="19" fill="#e05a44"/><rect x="1313" y="134" width="5" height="6" fill="#1e5128"/><rect x="1314" y="135" width="3" height="4" fill="#4caf50"/><rect x="1320" y="134" width="5" height="17" fill="#5a1710"/><rect x="1321" y="135" width="3" height="15" fill="#e05a44"/><rect x="1326" y="128" width="5" height="23" fill="#1e5128"/><rect x="1327" y="129" width="3" height="21" fill="#4caf50"/><rect x="1333" y="128" width="5" height="23" fill="#5a1710"/><rect x="1334" y="129" width="3" height="21" fill="#e05a44"/><rect x="1340" y="123" width="5" height="28" fill="#1e5128"/><rect x="1341" y="124" width="3" height="26" fill="#4caf50"/><rect x="1347" y="105" width="5" height="19" fill="#1e5128"/><rect x="1348" y="106" width="3" height="17" fill="#4caf50"/><rect x="1353" y="104" width="5" height="78" fill="#5a1710"/><rect x="1354" y="105" width="3" height="76" fill="#e05a44"/><rect x="1360" y="165" width="5" height="17" fill="#1e5128"/><rect x="1361" y="166" width="3" height="15" fill="#4caf50"/><rect x="1367" y="160" width="5" height="6" fill="#1e5128"/><rect x="1368" y="161" width="3" height="4" fill="#4caf50"/><rect x="1374" y="152" width="5" height="9" fill="#1e5128"/><rect x="1375" y="153" width="3" height="7" fill="#4caf50"/><rect x="1380" y="152" width="5" height="23" fill="#5a1710"/><rect x="1381" y="153" width="3" height="21" fill="#e05a44"/><rect x="1387" y="145" width="5" height="27" fill="#1e5128"/><rect x="1388" y="146" width="3" height="25" fill="#4caf50"/><rect x="1394" y="145" width="5" height="16" fill="#5a1710"/><rect x="1395" y="146" width="3" height="14" fill="#e05a44"/><rect x="1400" y="148" width="5" height="10" fill="#1e5128"/><rect x="1401" y="149" width="3" height="8" fill="#4caf50"/><rect x="1407" y="148" width="5" height="4" fill="#5a1710"/><rect x="1408" y="149" width="3" height="2" fill="#e05a44"/>
<path d="M3 35H1480.5M3 196H1480.5M3 275H1480.5M3 318H1480.5M3 466H1480.5M3 481H1480.5M3 522H1480.5M3 632H1480.5" stroke="#000" stroke-width="2" stroke-dasharray="10 12" fill="none"/>
<rect x="916.5" y="272.7" width="4" height="4" fill="#000" transform="rotate(30.9 918.5 274.7)"/><rect x="926.7" y="278.8" width="4" height="4" fill="#000" transform="rotate(30.9 928.7 280.8)"/><rect x="937.0" y="285.0" width="4" height="4" fill="#000" transform="rotate(30.9 939.0 287.0)"/><rect x="947.2" y="291.1" width="4" height="4" fill="#000" transform="rotate(30.9 949.2 293.1)"/><rect x="957.5" y="297.3" width="4" height="4" fill="#000" transform="rotate(30.9 959.5 299.3)"/><rect x="967.7" y="303.4" width="4" height="4" fill="#000" transform="rotate(30.9 969.7 305.4)"/>
<rect x="910.2" y="318.3" width="4" height="4" fill="#000" transform="rotate(-14.2 912.2 320.3)"/><rect x="921.7" y="315.4" width="4" height="4" fill="#000" transform="rotate(-14.2 923.7 317.4)"/><rect x="933.2" y="312.5" width="4" height="4" fill="#000" transform="rotate(-14.2 935.2 314.5)"/><rect x="944.7" y="309.6" width="4" height="4" fill="#000" transform="rotate(-14.2 946.7 311.6)"/><rect x="956.2" y="306.7" width="4" height="4" fill="#000" transform="rotate(-14.2 958.2 308.7)"/><rect x="967.7" y="303.8" width="4" height="4" fill="#000" transform="rotate(-14.2 969.7 305.8)"/>
<path d="M3 151.5H1480" stroke="#f23645" stroke-width="1" stroke-dasharray="1 2" fill="none"/>
</g>
<g clip-path="url(#p1)">
<polyline points="3.2,699.2 9.7,700.0 16.1,700.7 29.1,701.5 35.5,702.5 45.2,703.1 53.3,702.8 66.2,703.9 74.3,703.3 88.0,704.9 100.1,703.6 114.7,704.7 120.3,704.1 127.6,701.7 135.7,700.4 142.1,698.3 148.6,697.5 155.0,697.5 168.0,698.3 174.4,697.5 182.5,695.5 189.0,696.3 201.9,696.5 210.0,690.7 222.9,690.7 229.3,688.7 239.0,687.8 250.0,688.3 256.5,687.5 269.4,687.9 276.6,687.0 283.1,688.1 290.4,687.5 297.6,687.5 303.3,688.4 314.6,689.4 322.7,689.7 335.6,689.6 343.7,689.1 350.1,689.2 356.6,688.4 363.0,688.7 371.1,687.8 384.0,689.1 390.5,688.4 397.0,688.6 405.0,690.4 411.5,691.3 418.0,691.5 424.4,690.2 437.3,691.5 445.4,689.4 451.9,679.9 458.3,679.9 471.3,681.3 477.7,680.5 485.8,680.3 492.2,681.2 500.0,679.4 506.5,679.9 512.9,679.9 519.4,680.8 526.6,681.3 532.3,682.1 538.8,683.4 546.0,683.6 553.3,685.8 561.4,686.6 572.7,686.8 579.1,687.6 587.2,690.0 593.7,689.9 600.1,688.7 606.6,689.6 613.0,688.1 619.5,687.3 627.6,688.3 634.0,688.4 640.5,687.5 647.0,686.3 653.4,687.6 661.5,686.8 668.0,686.2 674.4,687.0 680.9,687.6 687.3,688.4 693.8,688.9 700.3,688.6 708.3,689.6 714.8,690.5 727.7,691.2 735.8,690.4 742.2,689.1 750.0,688.4 756.5,687.9 762.9,688.6 769.4,689.6 782.3,690.5 788.8,691.3 796.0,689.1 803.3,690.2 814.6,690.7 822.7,691.8 830.7,692.6 843.7,693.9 850.1,693.4 863.0,695.2 870.3,696.0 877.6,695.2 884.0,691.5 890.5,689.6 898.6,688.7 905.0,688.3 911.5,688.3 917.1,686.3 923.6,687.5 930.9,686.3 943.8,686.5 950.3,687.1 963.2,689.1 969.6,687.5 977.7,684.2 984.2,683.9 990.6,684.7 1000.0,684.2 1004.8,684.5 1010.5,682.6 1017.8,684.7 1025.8,683.7 1037.1,682.6 1045.2,682.6 1051.7,680.2 1058.1,678.2 1067.8,678.2 1077.5,676.5 1085.6,672.1 1092.1,670.5 1103.4,670.7 1113.0,671.1 1121.1,670.5 1127.6,669.0 1134.0,669.0 1142.1,670.0 1150.2,670.2 1159.9,671.6 1169.6,670.7 1177.6,670.3 1192.2,670.0 1198.6,671.0 1206.7,672.4 1216.4,672.4 1226.1,672.9 1234.2,673.7 1242.2,673.6 1250.0,674.2 1260.5,672.9 1267.8,673.6 1280.7,671.3 1290.4,672.4 1301.7,674.0 1314.6,675.0 1327.5,674.4 1340.4,674.4 1348.5,675.3 1355.0,670.8 1366.3,672.1 1377.6,673.2 1388.9,673.4 1401.8,674.9 1409.1,676.5" fill="none" stroke="#b22833" stroke-width="1.2"/>
</g>
<g clip-path="url(#p2)">
<rect x="3" y="746" width="1477.5" height="27" fill="#2196f3" fill-opacity="0.1"/>
<path d="M3 746.5H1480.5M3 773.5H1480.5" stroke="#6a6d78" stroke-width="1" stroke-dasharray="5 6" fill="none"/>
<path d="M3 759.5H1480.5" stroke="#a9acb4" stroke-width="1" stroke-dasharray="5 6" fill="none"/>
<polyline points="3.2,741.4 12.9,743.3 25.8,756.3 45.2,755.3 54.9,761.7 67.8,767.2 80.7,752.7 95.3,749.8 100.1,763.4 106.6,761.7 114.7,765.9 127.6,793.1 135.7,797.3 142.1,791.8 148.6,793.1 161.5,782.1 174.4,774.7 182.5,766.6 200.3,760.1 210.0,750.4 222.9,746.6 232.6,740.7 242.2,736.9 255.2,744.6 274.5,745.6 284.2,746.6 297.2,750.4 310.1,749.8 323.0,755.3 332.7,763.4 342.4,771.4 350.5,774.7 356.9,767.2 365.0,765.0 376.3,753.7 384.4,756.9 390.8,746.6 403.8,748.8 413.4,744.0 424.7,732.7 432.8,732.7 439.3,738.2 445.7,734.9 452.2,738.2 458.7,751.1 471.6,752.1 486.1,765.0 492.6,768.2 500.0,758.5 506.5,751.1 512.9,755.3 519.4,756.3 525.8,752.1 532.3,753.7 538.8,750.4 545.2,743.3 553.3,746.6 566.2,739.1 579.1,745.6 592.1,747.2 600.1,755.9 606.6,756.9 613.0,757.5 619.5,765.9 626.0,767.2 634.0,771.4 640.5,770.5 647.0,760.1 653.4,756.3 659.9,768.2 668.0,782.1 674.4,776.9 680.9,768.5 687.3,771.4 693.8,767.2 701.9,771.4 708.3,771.4 714.8,769.8 722.9,761.7 729.3,752.1 735.8,747.9 742.2,740.7 748.7,748.8 755.2,763.4 761.6,758.5 768.1,754.3 774.5,760.1 781.0,763.4 789.1,771.4 795.5,782.7 802.0,792.4 810.1,780.2 818.1,771.4 823.0,765.0 829.5,759.5 835.9,757.5 842.4,757.9 850.4,754.3 856.9,754.3 863.4,753.0 870.8,752.7 877.3,744.6 883.7,723.0 890.2,713.3 897.3,718.8 903.7,727.2 910.2,731.7 918.3,734.9 923.1,738.2 931.2,744.0 942.5,747.2 952.2,749.8 963.5,751.1 976.4,747.2 982.9,751.4 992.9,751.4 1004.2,747.2 1010.7,735.9 1017.1,729.4 1026.8,727.2 1031.7,727.8 1038.1,730.4 1044.6,735.9 1054.3,736.9 1064.0,737.5 1072.1,742.4 1083.4,742.7 1093.0,745.6 1099.5,744.9 1107.6,747.2 1118.9,746.2 1131.8,758.5 1144.7,759.5 1152.8,757.5 1159.3,760.8 1165.7,773.0 1172.2,771.4 1186.7,774.7 1193.2,767.2 1206.1,768.2 1212.6,760.8 1220.6,749.8 1227.1,755.3 1233.5,752.1 1240.0,742.4 1246.5,739.1 1254.5,731.1 1261.0,729.4 1267.5,735.9 1273.9,745.6 1280.4,759.5 1288.5,762.7 1299.8,758.5 1309.5,763.4 1319.2,765.9 1328.8,767.2 1335.3,768.2 1348.2,756.9 1354.7,773.0 1362.7,777.9 1374.0,769.8 1382.1,772.4 1390.2,768.2 1398.3,768.2 1408.9,762.7" fill="none" stroke="#2962ff" stroke-width="1.2"/>
</g>
<text x="1534.6" y="49.0" font-size="12" fill="#555555" font-weight="normal" text-anchor="end" >2,440.00</text>
<text x="1534.6" y="86.0" font-size="12" fill="#555555" font-weight="normal" text-anchor="end" >2,400.00</text>
<text x="1534.6" y="123.0" font-size="12" fill="#555555" font-weight="normal" text-anchor="end" >2,360.00</text>
<text x="1534.6" y="161.0" font-size="12" fill="#555555" font-weight="normal" text-anchor="end" >2,320.00</text>
<text x="1534.6" y="198.0" font-size="12" fill="#555555" font-weight="normal" text-anchor="end" >2,280.00</text>
<text x="1534.6" y="235.0" font-size="12" fill="#555555" font-weight="normal" text-anchor="end" >2,240.00</text>
<text x="1534.6" y="273.0" font-size="12" fill="#555555" font-weight="normal" text-anchor="end" >2,200.00</text>
<text x="1534.6" y="310.0" font-size="12" fill="#555555" font-weight="normal" text-anchor="end" >2,160.00</text>
<text x="1534.6" y="347.0" font-size="12" fill="#555555" font-weight="normal" text-anchor="end" >2,120.00</text>
<text x="1534.6" y="384.0" font-size="12" fill="#555555" font-weight="normal" text-anchor="end" >2,080.00</text>
<text x="1534.6" y="422.0" font-size="12" fill="#555555" font-weight="normal" text-anchor="end" >2,040.00</text>
<text x="1534.6" y="459.0" font-size="12" fill="#555555" font-weight="normal" text-anchor="end" >2,000.00</text>
<text x="1534.6" y="496.0" font-size="12" fill="#555555" font-weight="normal" text-anchor="end" >1,960.00</text>
<text x="1534.6" y="534.0" font-size="12" fill="#555555" font-weight="normal" text-anchor="end" >1,920.00</text>
<text x="1534.6" y="571.0" font-size="12" fill="#555555" font-weight="normal" text-anchor="end" >1,880.00</text>
<text x="1534.6" y="608.0" font-size="12" fill="#555555" font-weight="normal" text-anchor="end" >1,840.00</text>
<text x="1534.6" y="646.0" font-size="12" fill="#555555" font-weight="normal" text-anchor="end" >1,800.00</text>
<text x="1488" y="690.5" font-size="12" fill="#555555" font-weight="normal" text-anchor="start" >25.00</text>
<text x="1488" y="729.5" font-size="12" fill="#555555" font-weight="normal" text-anchor="start" >250.00</text>
<text x="1488" y="763.5" font-size="12" fill="#555555" font-weight="normal" text-anchor="start" >0.00</text>
<text x="1484.5" y="798" font-size="12" fill="#555555" font-weight="normal" text-anchor="start" >−250.00</text>
<path d="M1477 35H1481" stroke="#000" stroke-width="2"/>
<path d="M1480.5 26.6H1538a2 2 0 0 1 2 2V41.4a2 2 0 0 1 -2 2H1480.5Z" fill="#000"/>
<text x="1534.6" y="39.3" font-size="12" fill="#fff" font-weight="bold" text-anchor="end" >2,450.50</text>
<path d="M1477 196H1481" stroke="#000" stroke-width="2"/>
<path d="M1480.5 187.6H1538a2 2 0 0 1 2 2V202.4a2 2 0 0 1 -2 2H1480.5Z" fill="#000"/>
<text x="1534.6" y="200.3" font-size="12" fill="#fff" font-weight="bold" text-anchor="end" >2,277.73</text>
<path d="M1477 275H1481" stroke="#000" stroke-width="2"/>
<path d="M1480.5 266.6H1538a2 2 0 0 1 2 2V281.4a2 2 0 0 1 -2 2H1480.5Z" fill="#000"/>
<text x="1534.6" y="279.3" font-size="12" fill="#fff" font-weight="bold" text-anchor="end" >2,193.44</text>
<path d="M1477 318H1481" stroke="#000" stroke-width="2"/>
<path d="M1480.5 309.6H1538a2 2 0 0 1 2 2V324.4a2 2 0 0 1 -2 2H1480.5Z" fill="#000"/>
<text x="1534.6" y="322.3" font-size="12" fill="#fff" font-weight="bold" text-anchor="end" >2,147.28</text>
<path d="M1477 466H1481" stroke="#000" stroke-width="2"/>
<path d="M1480.5 458.2H1538a2 2 0 0 1 2 2V473.0a2 2 0 0 1 -2 2H1480.5Z" fill="#000"/>
<text x="1534.6" y="470.9" font-size="12" fill="#fff" font-weight="bold" text-anchor="end" >1,987.90</text>
<path d="M1477 481H1481" stroke="#000" stroke-width="2"/>
<path d="M1480.5 474.9H1538a2 2 0 0 1 2 2V489.7a2 2 0 0 1 -2 2H1480.5Z" fill="#000"/>
<text x="1534.6" y="487.6" font-size="12" fill="#fff" font-weight="bold" text-anchor="end" >1,972.75</text>
<path d="M1477 522H1481" stroke="#000" stroke-width="2"/>
<path d="M1480.5 513.6H1538a2 2 0 0 1 2 2V528.4a2 2 0 0 1 -2 2H1480.5Z" fill="#000"/>
<text x="1534.6" y="526.3" font-size="12" fill="#fff" font-weight="bold" text-anchor="end" >1,928.04</text>
<path d="M1477 632H1481" stroke="#000" stroke-width="2"/>
<path d="M1480.5 623.6H1538a2 2 0 0 1 2 2V638.4a2 2 0 0 1 -2 2H1480.5Z" fill="#000"/>
<text x="1534.6" y="636.3" font-size="12" fill="#fff" font-weight="bold" text-anchor="end" >1,810.48</text>
<g filter="url(#sh)" transform="matrix(1 0 -0.268 1 212.8 0)" fill="#ffffff" fill-opacity="0.82"><path d="M1301 741H1314V756H1301Z" fill-rule="evenodd"/><path d="M1313 742H1354V751H1313Z" fill-rule="evenodd"/><path d="M1311 750H1352V794H1311Z M1324 759V768H1341V759Z M1324 776V786H1341V776Z" fill-rule="evenodd"/><path d="M1300 759H1310V769H1300Z" fill-rule="evenodd"/><path d="M1296 794L1306 794L1312 772L1303 772Z" fill-rule="evenodd"/><path d="M1359 741H1411V748.5H1359Z" fill-rule="evenodd"/><path d="M1359 748H1370V771H1359Z" fill-rule="evenodd"/><path d="M1359 761H1411V771H1359Z" fill-rule="evenodd"/><path d="M1402 741H1411V794H1402Z" fill-rule="evenodd"/><path d="M1362 777H1402V785H1362Z" fill-rule="evenodd"/><path d="M1386 787H1411V794H1386Z" fill-rule="evenodd"/><path d="M1416 742H1447V781H1416Z M1426 750V780H1440V750Z" fill-rule="evenodd"/><path d="M1418 780L1428 780L1420 794L1409 794Z" fill-rule="evenodd"/><path d="M1437 781L1446 781L1452 794L1442 794Z" fill-rule="evenodd"/><path d="M1449 746H1482V754H1449Z" fill-rule="evenodd"/><path d="M1464 740H1474V794H1464Z" fill-rule="evenodd"/><path d="M1453 757L1463 757L1458 792L1448 792Z" fill-rule="evenodd"/><path d="M1489 741L1498 741L1491 773L1482 773Z" fill-rule="evenodd"/><path d="M1495 753L1504 753L1498 765L1489 765Z" fill-rule="evenodd"/><path d="M1480 774H1502V781H1480Z" fill-rule="evenodd"/><path d="M1505 741H1520V749H1505Z" fill-rule="evenodd"/><path d="M1522 741L1532 741L1525 758L1515 758Z" fill-rule="evenodd"/><path d="M1508 751L1516 751L1531 761L1522 761Z" fill-rule="evenodd"/><path d="M1505 760H1532V768H1505Z" fill-rule="evenodd"/><path d="M1518 768H1527V787H1518Z" fill-rule="evenodd"/><path d="M1482 787H1533V794H1482Z" fill-rule="evenodd"/></g><g filter="url(#sh2)" font-size="31.5" font-weight="bold" font-style="italic" fill="#8ecbfc" stroke="#8ecbfc" stroke-width="1.6" stroke-linejoin="round"><text x="1314.1" y="826.5">z</text><text x="1341.4" y="826.5">z</text><text x="1369.4" y="826.5">r</text><text x="1393.5" y="826.5">t</text><text x="1413.5" y="826.5">0</text><text x="1471.2" y="826.5">.</text><text x="1491.2" y="826.5">c</text><text x="1516.8" y="826.5">n</text><path d="M1453.2 805.3H1461.2L1456 827.2H1448Z M1453.6 805.3L1446.2 810.2L1446.6 815.4L1453 811.6Z"/></g>
<path d="M1480.5 2V831M3 803.5H1544" stroke="#50535e" stroke-width="1" fill="none"/>
<rect x="1481" y="2" width="63" height="34" fill="#fff"/>
<rect x="1484.5" y="6.5" width="55" height="25" rx="4" fill="#fff" stroke="#e0e3eb"/>
<text x="1488.4" y="23" font-size="12.3" fill="#131722" font-weight="normal" text-anchor="start" >USD</text>
<path d="M1529.5 18 L1532.3 20.8 L1535.1 18" stroke="#131722" stroke-width="1.2" fill="none"/>
<text x="6.4" y="821" font-size="12" fill="#555555" font-weight="normal" text-anchor="middle" >Sep</text>
<text x="148.5" y="821" font-size="12" fill="#555555" font-weight="normal" text-anchor="middle" >Oct</text>
<text x="297.5" y="821" font-size="12" fill="#555555" font-weight="normal" text-anchor="middle" >Nov</text>
<text x="445.5" y="821" font-size="12" fill="#555555" font-weight="normal" text-anchor="middle" >Dec</text>
<text x="587.5" y="821" font-size="12" fill="#555555" font-weight="bold" text-anchor="middle" >2024</text>
<text x="742.5" y="821" font-size="12" fill="#555555" font-weight="normal" text-anchor="middle" >Feb</text>
<text x="883.5" y="821" font-size="12" fill="#555555" font-weight="normal" text-anchor="middle" >Mar</text>
<text x="1025.5" y="821" font-size="12" fill="#555555" font-weight="normal" text-anchor="middle" >Apr</text>
<text x="1173.5" y="821" font-size="12" fill="#555555" font-weight="normal" text-anchor="middle" >May</text>
<text x="1328.5" y="821" font-size="12" fill="#555555" font-weight="normal" text-anchor="middle" >Jun</text>
<text x="1463.5" y="821" font-size="12" fill="#555555" font-weight="normal" text-anchor="middle" >Jul</text>
<rect x="7" y="29" width="72" height="33" fill="#fff" fill-opacity="0.6"/><rect x="91" y="29" width="76" height="33" fill="#fff" fill-opacity="0.6"/>
<circle cx="21" cy="18" r="9.2" fill="#d69a00"/>
<path d="M18.8 14H23.2L24.2 16.8H17.8Z M15.2 17.9H19.4L20.5 20.9H14.1Z M22.6 17.9H26.8L27.9 20.9H21.5Z" fill="#fff"/>
<text x="34.6" y="24" font-size="14.8" fill="#575757" font-weight="normal" text-anchor="start" >CFDs on Gold (US$ / OZ) · 1D · TVC</text>
<circle cx="303" cy="17.6" r="8.5" fill="#089981" fill-opacity="0.12"/><circle cx="303" cy="17.6" r="4" fill="#089981"/>
<text x="328.8" y="23" font-size="12.7" fill="#555555">O<tspan fill="#7a2a2a">2,328.66</tspan></text>
<text x="394.5" y="23" font-size="12.7" fill="#555555">H<tspan fill="#7a2a2a">2,335.01</tspan></text>
<text x="460.4" y="23" font-size="12.7" fill="#555555">L<tspan fill="#7a2a2a">2,323.88</tspan></text>
<text x="525" y="23" font-size="12.7" fill="#555555">C<tspan fill="#7a2a2a">2,326.47</tspan></text>
<text x="590.1" y="23" font-size="12.7" fill="#7a2a2a" font-weight="normal" text-anchor="start" >−2.71 (−0.12%)</text>
<rect x="11.5" y="34.5" width="61" height="23" rx="3" fill="#fff" stroke="#f23645"/>
<text x="19.4" y="50.8" font-size="12.3" fill="#f23645" font-weight="normal" text-anchor="start" >2326.49</text>
<text x="80.7" y="50" font-size="10.5" fill="#131722" font-weight="normal" text-anchor="start" >27</text>
<rect x="100.5" y="34.5" width="61" height="23" rx="3" fill="#fff" stroke="#2962ff"/>
<text x="108.4" y="50.8" font-size="12.3" fill="#2962ff" font-weight="normal" text-anchor="start" >2326.76</text>
<text x="11.9" y="78.6" font-size="12.2" fill="#555555" font-weight="normal" text-anchor="start" textLength="383" lengthAdjust="spacingAndGlyphs">MA Ribbon SMA close 20 SMA close 50 SMA close 100 SMA close 200</text>
<text x="403.6" y="78.6" font-size="12.2" fill="#f23645" font-weight="normal" text-anchor="start" textLength="48.4" lengthAdjust="spacingAndGlyphs">2,332.01</text>
<text x="459.7" y="78.6" font-size="12.2" fill="#2962ff" font-weight="normal" text-anchor="start" textLength="49.9" lengthAdjust="spacingAndGlyphs">2,343.54</text>
<text x="516.5" y="78.6" font-size="12.2" fill="#131722" font-weight="normal" text-anchor="start" >∅</text>
<text x="530.7" y="78.6" font-size="12.2" fill="#131722" font-weight="normal" text-anchor="start" textLength="49.1" lengthAdjust="spacingAndGlyphs">2,109.53</text>
<rect x="12.5" y="88.5" width="28" height="20" rx="3" fill="#fff" stroke="#e0e3eb"/>
<path d="M22.5 100.5 L26.5 96.5 L30.5 100.5" stroke="#131722" stroke-width="1.5" fill="none"/>
<text x="12" y="688.1" font-size="12.6" fill="#555555" font-weight="normal" text-anchor="start" textLength="67" lengthAdjust="spacingAndGlyphs">ATR 14 RMA</text>
<text x="87.9" y="688.1" font-size="12.6" fill="#b22833" font-weight="normal" text-anchor="start" >32.96</text>
<text x="12" y="730.1" font-size="12.6" fill="#555555" font-weight="normal" text-anchor="start" textLength="101.7" lengthAdjust="spacingAndGlyphs">CCI 20 hlc3 SMA 5</text>
<text x="122.7" y="730.1" font-size="12.6" fill="#2962ff" font-weight="normal" text-anchor="start" >−22.62</text>
<rect x="9" y="773" width="37" height="18" fill="#fff"/><path d="M15.1 774.2H26.9V788.8H21.1V779.7H15.1Z M38.4 774.2H44.9L38.9 788.8H32.2Z" fill="#131722"/><circle cx="31.9" cy="776.8" r="2.9" fill="#131722"/>
<path d="M1505.6 817.4l3.2-5.6h7.4l3.2 5.6-3.2 5.6h-7.4z" fill="#fff" stroke="#131722" stroke-width="1.1"/><circle cx="1512.5" cy="817.4" r="2.2" fill="none" stroke="#131722" stroke-width="1.1"/>
<rect x="3" y="832" width="1541" height="1" fill="#fff"/><rect x="0" y="0" width="3" height="833" fill="#e0e3eb"/><rect x="0" y="831" width="1548" height="1" fill="#e0e3eb"/><rect x="1544" y="0" width="4" height="833" fill="#e0e3eb"/><rect x="0" y="0" width="1548" height="2" fill="#e0e3eb"/>
<path d="M3 2h4a4 4 0 0 0 -4 4z M1544 2h-4a4 4 0 0 1 4 4z" fill="#e0e3eb"/>
</svg>
</body></html>
